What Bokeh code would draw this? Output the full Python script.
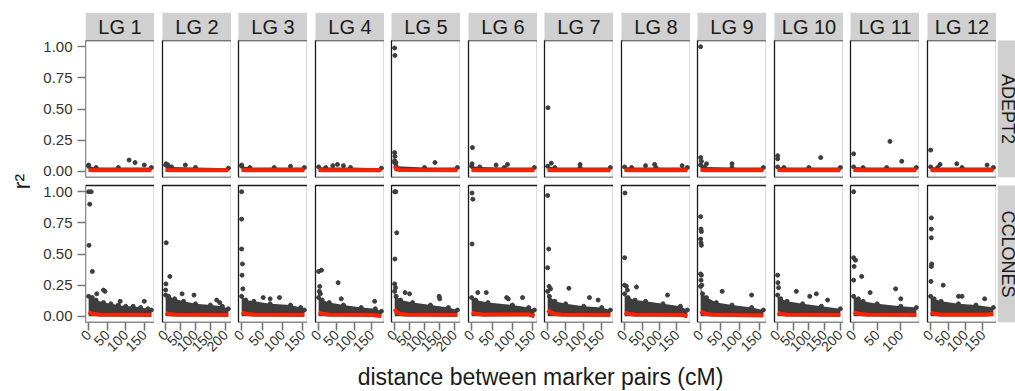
import math
from bokeh.plotting import figure
from bokeh.layouts import row, column
from bokeh.models import Range1d, FixedTicker, PrintfTickFormatter
from bokeh.core.properties import value
from bokeh.embed import file_html
from bokeh.resources import INLINE

# ---------------- data ----------------
LG_LABELS = ["LG 1", "LG 2", "LG 3", "LG 4", "LG 5", "LG 6",
             "LG 7", "LG 8", "LG 9", "LG 10", "LG 11", "LG 12"]
ROW_LABELS = ["ADEPT2", "CCLONES"]
LG_LENGTH = [169, 210, 154, 177, 210, 154, 174, 180, 160, 201, 133, 180]
Y_TICKS = [0.0, 0.25, 0.5, 0.75, 1.0]
X_TICK_STEP = 50

# ADEPT2 row: upper edge of the dense point band
ADEPT2_ENV_X = [[0, 20, 80, 169], [0, 20, 100, 210], [0, 20, 80, 154], [0, 20, 90, 177],
                [0, 5, 100, 210], [0, 20, 80, 154], [0, 20, 90, 174], [0, 20, 90, 180],
                [0, 10, 80, 160], [0, 20, 100, 201], [0, 20, 70, 133], [0, 20, 90, 180]]
ADEPT2_ENV_Y = [[0.04, 0.03, 0.03, 0.03], [0.05, 0.035, 0.03, 0.025], [0.04, 0.03, 0.03, 0.03],
                [0.035, 0.03, 0.03, 0.025], [0.07, 0.04, 0.03, 0.03], [0.04, 0.035, 0.03, 0.03],
                [0.04, 0.03, 0.03, 0.03], [0.035, 0.03, 0.03, 0.03], [0.05, 0.035, 0.03, 0.03],
                [0.035, 0.03, 0.03, 0.03], [0.035, 0.03, 0.03, 0.03], [0.035, 0.03, 0.03, 0.03]]
ADEPT2_OUT_X = [[0, 109, 125, 150], [2, 8, 66], [0, 120], [40, 53, 70],
                [0, 1, 0, 1, 0, 4, 135], [2, 1, 88, 60], [1, 10, 90], [86, 60, 165],
                [0, 0, 2, 15, 80], [0, 0, 138], [0, 77, 102], [0, 27, 75, 162]]
ADEPT2_OUT_Y = [[0.05, 0.09, 0.07, 0.05], [0.06, 0.05, 0.05], [0.05, 0.04], [0.045, 0.055, 0.045],
                [0.99, 0.93, 0.15, 0.12, 0.085, 0.07, 0.07], [0.19, 0.06, 0.055, 0.05],
                [0.51, 0.065, 0.055], [0.055, 0.045, 0.045],
                [1.0, 0.11, 0.08, 0.06, 0.06], [0.125, 0.10, 0.11], [0.14, 0.24, 0.08],
                [0.17, 0.055, 0.06, 0.05]]
ADEPT2_MEAN_X = [[0, 10, 169], [0, 10, 210], [0, 10, 154], [0, 10, 177], [0, 5, 15, 210],
                 [0, 10, 154], [0, 10, 174], [0, 10, 180], [0, 10, 160], [0, 10, 201],
                 [0, 10, 133], [0, 10, 180]]
ADEPT2_MEAN_Y = [[0.01, 0.008, 0.008], [0.012, 0.008, 0.008], [0.01, 0.008, 0.008],
                 [0.01, 0.008, 0.008], [0.04, 0.02, 0.01, 0.008], [0.01, 0.008, 0.008],
                 [0.01, 0.008, 0.008], [0.01, 0.008, 0.008], [0.012, 0.008, 0.008],
                 [0.01, 0.008, 0.008], [0.01, 0.008, 0.008], [0.01, 0.008, 0.008]]

# CCLONES row
CCLONES_ENV_X = [[0, 10, 20, 40, 60, 80, 100, 120, 140, 160, 169],
                 [0, 10, 30, 60, 100, 150, 190, 210],
                 [0, 10, 30, 70, 120, 145, 154],
                 [0, 10, 30, 70, 120, 160, 177],
                 [0, 5, 20, 60, 120, 180, 210],
                 [0, 10, 40, 100, 140, 154],
                 [0, 5, 20, 50, 100, 150, 174],
                 [0, 10, 30, 60, 110, 160, 180],
                 [0, 5, 15, 40, 80, 130, 160],
                 [0, 10, 30, 80, 140, 201],
                 [0, 10, 20, 50, 100, 133],
                 [0, 10, 30, 80, 130, 180]]
CCLONES_ENV_Y = [[0.16, 0.15, 0.13, 0.11, 0.10, 0.09, 0.08, 0.08, 0.07, 0.06, 0.05],
                 [0.17, 0.16, 0.14, 0.12, 0.10, 0.09, 0.08, 0.06],
                 [0.16, 0.13, 0.12, 0.10, 0.09, 0.07, 0.05],
                 [0.15, 0.13, 0.11, 0.09, 0.07, 0.06, 0.04],
                 [0.20, 0.16, 0.13, 0.11, 0.09, 0.07, 0.05],
                 [0.15, 0.13, 0.11, 0.09, 0.07, 0.05],
                 [0.20, 0.16, 0.12, 0.10, 0.08, 0.07, 0.05],
                 [0.18, 0.15, 0.13, 0.12, 0.10, 0.08, 0.05],
                 [0.24, 0.18, 0.15, 0.11, 0.09, 0.07, 0.05],
                 [0.17, 0.14, 0.12, 0.10, 0.08, 0.06],
                 [0.16, 0.14, 0.12, 0.10, 0.08, 0.07],
                 [0.16, 0.14, 0.12, 0.10, 0.09, 0.07]]
CCLONES_OUT_X = [[0, 7, 3, 1, 10, 22, 40, 44, 85, 150],
                 [2, 14, 1, 0, 55, 95, 171, 181],
                 [0, 0, 0, 2, 1, 3, 53, 93, 70],
                 [0, 8, 55, 3, 2, 5, 64, 158],
                 [0, 4, 7, 1, 0, 3, 35, 50, 149, 151],
                 [1, 3, 1, 15, 36, 86, 90, 125],
                 [0, 3, 0, 4, 59, 116, 140, 8],
                 [1, 0, 0, 5, 34, 123, 8],
                 [0, 1, 2, 0, 1, 2, 0, 2, 1, 3, 55, 130],
                 [0, 1, 60, 103, 124, 160, 3],
                 [0, 0, 4, 1, 17, 0, 89, 35, 100],
                 [2, 2, 2, 3, 2, 1, 36, 80, 90, 155]]
CCLONES_OUT_Y = [[1.0, 1.0, 0.90, 0.57, 0.36, 0.18, 0.21, 0.20, 0.12, 0.12],
                 [0.59, 0.32, 0.26, 0.21, 0.18, 0.17, 0.13, 0.11],
                 [1.0, 0.78, 0.54, 0.42, 0.33, 0.22, 0.15, 0.15, 0.14],
                 [0.36, 0.37, 0.27, 0.24, 0.20, 0.18, 0.14, 0.12],
                 [1.0, 1.0, 0.67, 0.46, 0.26, 0.23, 0.19, 0.18, 0.16, 0.14],
                 [0.99, 0.94, 0.58, 0.19, 0.19, 0.15, 0.14, 0.15],
                 [0.97, 0.54, 0.39, 0.24, 0.225, 0.15, 0.13, 0.22],
                 [0.99, 0.47, 0.25, 0.24, 0.235, 0.17, 0.21],
                 [0.80, 0.70, 0.68, 0.62, 0.59, 0.57, 0.34, 0.33, 0.29, 0.25, 0.20, 0.17],
                 [0.33, 0.27, 0.20, 0.16, 0.18, 0.13, 0.23],
                 [1.0, 0.47, 0.45, 0.40, 0.32, 0.29, 0.22, 0.19, 0.14],
                 [0.79, 0.70, 0.63, 0.42, 0.40, 0.28, 0.25, 0.16, 0.16, 0.14]]
CCLONES_MEAN_X = [[0, 10, 30, 169], [0, 10, 30, 210], [0, 10, 30, 154], [0, 10, 30, 150, 177],
                  [0, 5, 20, 40, 210], [0, 10, 30, 140, 154], [0, 5, 20, 40, 174],
                  [0, 10, 30, 165, 180], [0, 10, 30, 160], [0, 10, 30, 201],
                  [0, 10, 30, 133], [0, 10, 30, 160, 180]]
CCLONES_MEAN_Y = [[0.035, 0.02, 0.012, 0.01], [0.025, 0.018, 0.012, 0.01],
                  [0.03, 0.02, 0.012, 0.01], [0.03, 0.02, 0.012, 0.01, 0.0],
                  [0.06, 0.035, 0.018, 0.012, 0.01], [0.03, 0.02, 0.012, 0.015, 0.0],
                  [0.05, 0.035, 0.018, 0.012, 0.01], [0.03, 0.02, 0.012, 0.01, 0.0],
                  [0.04, 0.02, 0.012, 0.006], [0.03, 0.02, 0.012, 0.01],
                  [0.03, 0.02, 0.012, 0.01], [0.03, 0.02, 0.012, 0.012, 0.02]]

# ---------------- styling / layout constants ----------------
FONT = "Liberation Sans"
PT_COLOR = "#3d3d3d"
RED = "#ff2200"
STRIP_BG = "#d0d0d0"
BORDER = "#1a1a1a"
FRAME_W, FRAME_H = 69, 137
GAPS = [8, 7, 8, 7, 8, 7, 8, 7, 8, 7, 8]
LEFT_LABEL_W = 36
YAXIS_W = 49
STRIP_TOP = 12
STRIP_H = 28
HALF_GAP = 4          # rows are 8 px apart: 4 px below the top row, 4 px above the bottom row
XAXIS_H = 40
XLABEL_H = 29
TOTAL_W, TOTAL_H = 1015, 391
Y0, Y1 = -0.05, 1.05
UY = (Y1 - Y0) / FRAME_H

ROWS_DATA = [
    (ADEPT2_ENV_X, ADEPT2_ENV_Y, ADEPT2_OUT_X, ADEPT2_OUT_Y, ADEPT2_MEAN_X, ADEPT2_MEAN_Y),
    (CCLONES_ENV_X, CCLONES_ENV_Y, CCLONES_OUT_X, CCLONES_OUT_Y, CCLONES_MEAN_X, CCLONES_MEAN_Y),
]


def gap_before(i):
    return 0 if i == 0 else GAPS[i - 1]


def plain_fig(w, h, xr, yr, **kw):
    f = figure(width=w, height=h, title=None, output_backend="svg", toolbar_location=None,
               x_range=xr, y_range=yr, min_border=0, **kw)
    f.grid.visible = False
    f.outline_line_color = None
    f.border_fill_color = "white"
    f.background_fill_color = "white"
    return f


n = len(LG_LABELS)
used_w = LEFT_LABEL_W + YAXIS_W + n * FRAME_W + sum(GAPS)
right_w = TOTAL_W - used_w

panel_rows = []
for r, (env_x, env_y, out_x, out_y, mean_x, mean_y) in enumerate(ROWS_DATA):
    top_row = (r == 0)
    bottom = (r == len(ROWS_DATA) - 1)
    extra_top = STRIP_H if top_row else HALF_GAP     # inside the frame, above the panel
    b_top = STRIP_TOP if top_row else 0               # border above the frame
    b_bottom = XAXIS_H if bottom else HALF_GAP        # border below the frame
    h = b_top + extra_top + FRAME_H + b_bottom
    yr_top = Y1 + extra_top * UY
    figs = []
    for i in range(n):
        L = LG_LENGTH[i]
        x0, x1 = -0.05 * L, 1.05 * L
        ux = (x1 - x0) / FRAME_W
        g = gap_before(i)
        f = plain_fig((YAXIS_W if i == 0 else 0) + g + FRAME_W, h,
                      Range1d(x0 - g * ux, x1), Range1d(Y0, yr_top),
                      x_axis_location="below" if bottom else None,
                      y_axis_location="left" if i == 0 else None)
        f.min_border_left = YAXIS_W if i == 0 else 0
        f.min_border_top = b_top
        f.min_border_bottom = b_bottom
        for ax in f.axis:
            ax.axis_line_color = None
            ax.major_tick_in = 0
            ax.major_tick_out = 8
            ax.major_tick_line_color = "#777777"
            ax.major_tick_line_width = 1.6
            ax.minor_tick_line_color = None
            ax.major_label_text_font = FONT
            ax.major_label_text_font_size = "15px"
            ax.major_label_text_color = "#333333"
        if i == 0:
            f.yaxis.ticker = FixedTicker(ticks=Y_TICKS)
            f.yaxis.formatter = PrintfTickFormatter(format="%.2f")
            f.yaxis.major_label_standoff = 5
        if bottom:
            f.xaxis.ticker = FixedTicker(ticks=list(range(0, L + 1, X_TICK_STEP)))
            f.xaxis.major_label_orientation = math.pi / 4
            f.xaxis.major_label_standoff = 2
            f.xaxis.major_label_text_font_size = "14px"
        # data
        f.varea(x=env_x[i], y1=[0] * len(env_x[i]), y2=env_y[i], fill_color=PT_COLOR)
        f.scatter(x=env_x[i], y=env_y[i], size=4, color=PT_COLOR)
        f.scatter(x=out_x[i], y=out_y[i], size=4, color=PT_COLOR)
        f.line(x=mean_x[i], y=mean_y[i], line_color=RED, line_width=4)
        # panel border
        f.quad(left=[x0], right=[x1], bottom=[Y0], top=[Y1], fill_color=None,
               line_color=BORDER, line_width=1.3)
        # facet strip on top
        if top_row:
            f.quad(left=[x0], right=[x1], bottom=[Y1], top=[yr_top],
                   fill_color=STRIP_BG, line_color=None)
            f.text(x=[L / 2], y=[Y1 + STRIP_H * UY / 2], text=[LG_LABELS[i]],
                   text_align="center", text_baseline="middle",
                   text_font=value(FONT), text_font_size="20px", text_color="#1a1a1a")
        figs.append(f)
    # right strip (same borders as the panels so the row stays aligned)
    s = plain_fig(right_w, h, Range1d(0, 1), Range1d(Y0, yr_top),
                  x_axis_location=None, y_axis_location=None)
    s.min_border_left = 1
    s.min_border_top = b_top
    s.min_border_bottom = b_bottom
    s.quad(left=[0], right=[1], bottom=[Y0], top=[Y1], fill_color=STRIP_BG, line_color=None)
    s.text(x=[0.6], y=[(Y0 + Y1) / 2], text=[ROW_LABELS[r]], angle=-math.pi / 2,
           text_align="center", text_baseline="middle",
           text_font=value(FONT), text_font_size="18px", text_color="#1a1a1a")
    figs.append(s)
    panel_rows.append(row(*figs, spacing=0))

# x axis title
xl = plain_fig(TOTAL_W - LEFT_LABEL_W, XLABEL_H, Range1d(LEFT_LABEL_W, TOTAL_W), Range1d(0, 1),
               x_axis_location=None, y_axis_location=None)
xl.text(x=[540], y=[0.5], text=["distance between marker pairs (cM)"], text_align="center",
        text_baseline="middle", text_font=value(FONT), text_font_size="23px",
        text_color="#1a1a1a")

# y axis title
yl = plain_fig(LEFT_LABEL_W, TOTAL_H, Range1d(0, LEFT_LABEL_W), Range1d(TOTAL_H, 0),
               x_axis_location=None, y_axis_location=None)
yl.text(x=[21], y=[181], text=["r²"], angle=math.pi / 2, text_align="center",
        text_baseline="middle", text_font=value(FONT), text_font_size="23px",
        text_color="#1a1a1a")

p = row(yl, column(*panel_rows, xl, spacing=0), spacing=0)

open("out.html", "w").write(file_html(p, INLINE))
